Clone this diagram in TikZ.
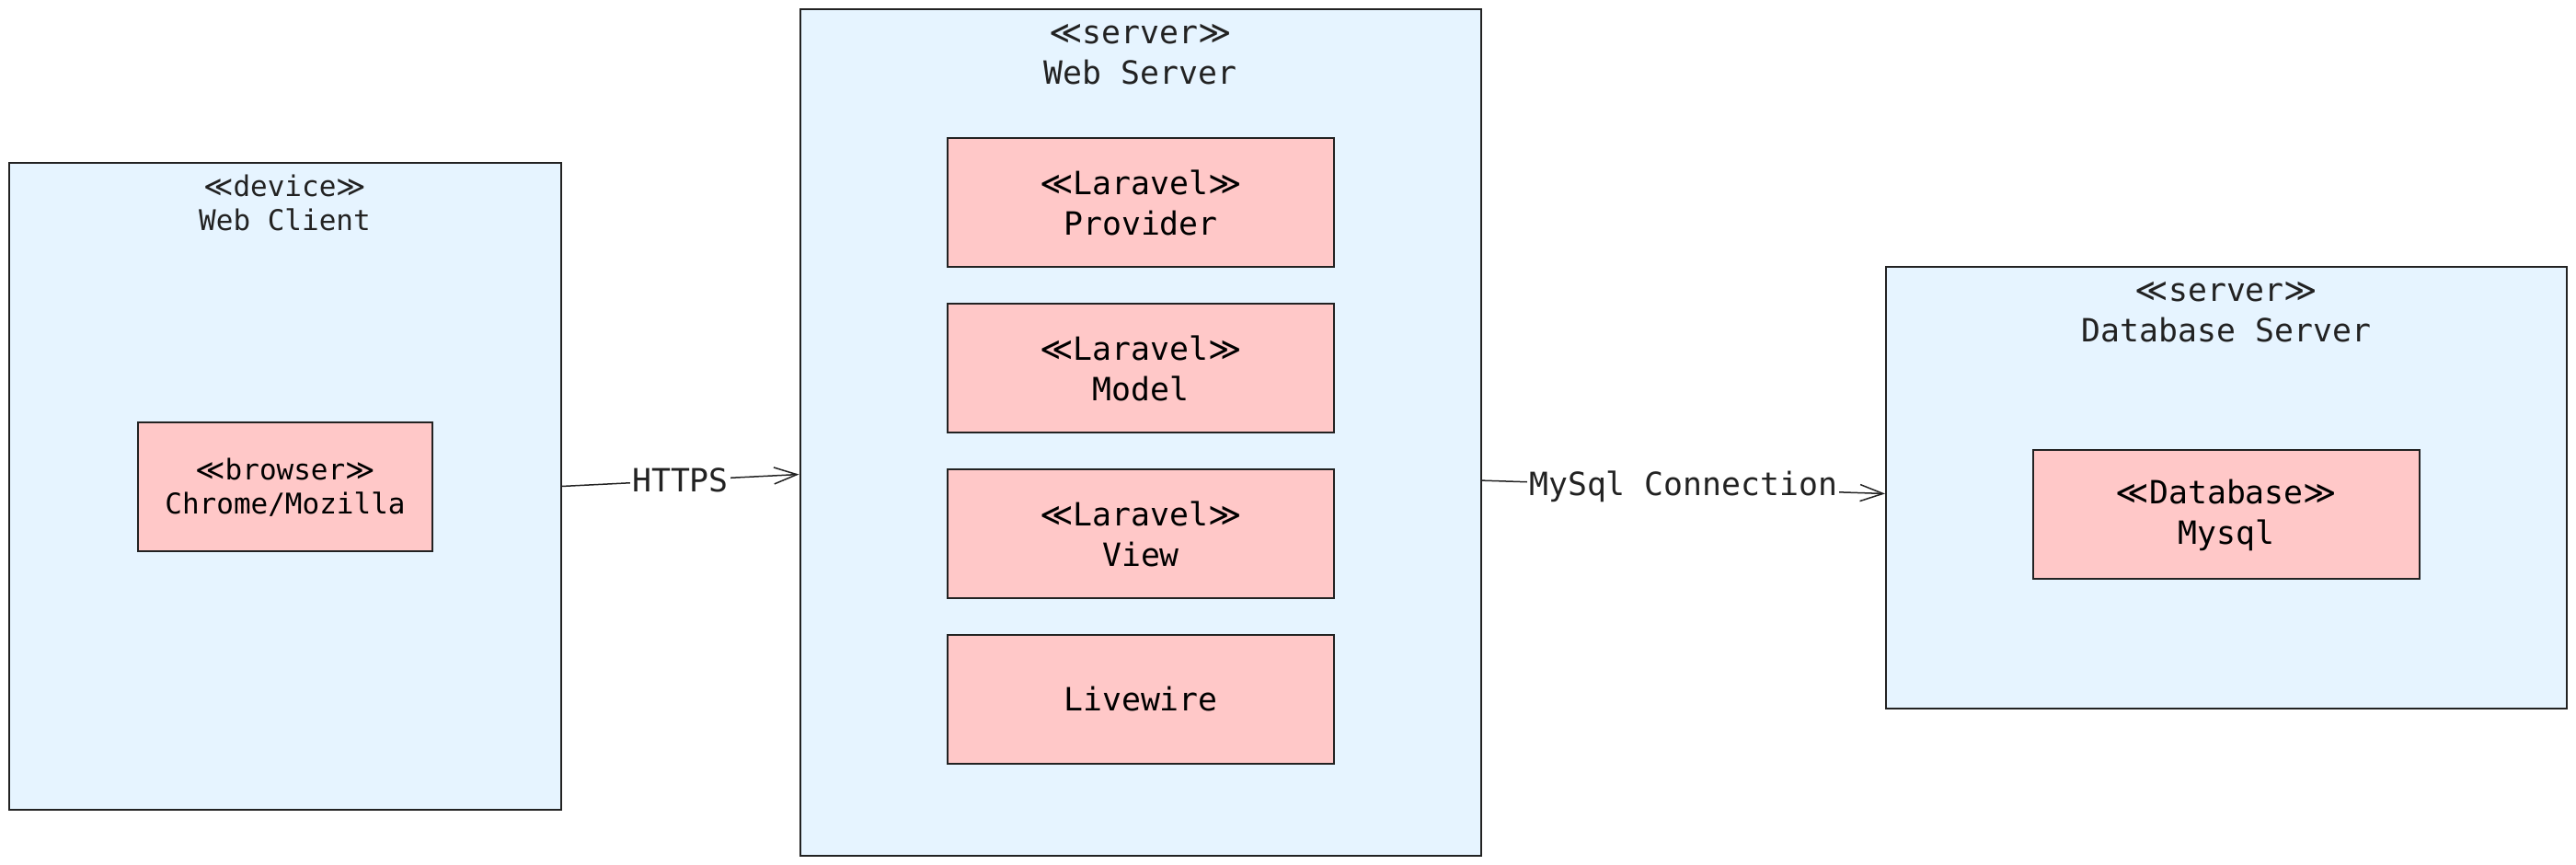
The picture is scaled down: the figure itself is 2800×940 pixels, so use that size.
\documentclass[tikz,border=0pt]{standalone}
\usepackage{fontspec}
\setmonofont{DejaVu Sans Mono}
\newfontfamily\guilfont{DejaVu Sans}
\usepackage{tikz}
\usepackage{xcolor}
\usetikzlibrary{positioning}
\usetikzlibrary{arrows.meta}
\definecolor{nodeblue}{HTML}{E6F4FF}
\definecolor{comppink}{HTML}{FFC8C8}
\definecolor{edgegray}{HTML}{222222}
\newcommand{\stereo}[1]{{\guilfont ≪}#1{\guilfont ≫}}
\tikzstyle{line} = [draw=edgegray, line width=0.75pt, -{Straight Barb[length=12.5pt,width=9pt]}]
\tikzstyle{deploy} = [draw=edgegray, fill=nodeblue, line width=1pt]
\tikzstyle{comp} = [draw=edgegray, fill=comppink, line width=1pt, align=center, font=\ttfamily\fontsize{17.4}{22}\selectfont]
\tikzstyle{title} = [align=center, text=edgegray, font=\ttfamily\fontsize{17.4}{22}\selectfont]

\begin{document}
\begin{tikzpicture}[x=0.5pt, y=-0.5pt]
			\useasboundingbox (0,0) rectangle (2800,940);
			% outer deployment nodes
			\node[deploy, minimum width=300pt, minimum height=351.5pt] at (309.5, 528.5) (client) {};
			\node[deploy, minimum width=370pt, minimum height=460pt] at (1239.5, 470) (webserver) {};
			\node[deploy, minimum width=370pt, minimum height=240pt] at (2420, 530) (dbserver) {};
			
			\node[title, font=\ttfamily\fontsize{15.5}{18.5}\selectfont, yshift=-22.25pt] at (client.north) (clienttitle) {\stereo{device}\\Web Client};
			\node[title, yshift=-25pt] at (webserver.north) (webtitle) {\stereo{server}\\Web Server};
			\node[title, yshift=-25pt] at (dbserver.north) (dbtitle) {\stereo{server}\\Database Server};
			
			% components
			\node[comp, font=\ttfamily\fontsize{15.5}{18.5}\selectfont, minimum width=160pt, minimum height=70pt] at (310, 529.5) (browser) {\stereo{browser}\\Chrome/Mozilla};
			\node[comp, minimum width=210pt, minimum height=70pt] at (1240, 220) (provider) {\stereo{Laravel}\\Provider};
			\node[comp, minimum width=210pt, minimum height=70pt, below=19pt of provider] (model) {\stereo{Laravel}\\Model};
			\node[comp, minimum width=210pt, minimum height=70pt, below=19pt of model] (view) {\stereo{Laravel}\\View};
			\node[comp, minimum width=210pt, minimum height=70pt, below=19pt of view] (livewire) {Livewire};
			\node[comp, minimum width=210pt, minimum height=70pt] at (2420, 559.5) (mysql) {\stereo{Database}\\Mysql};
			
			% connections
			\draw [line] (client.east) -- node [midway, fill=white, inner sep=1pt, text=edgegray, font=\ttfamily\fontsize{17.4}{22}\selectfont] {HTTPS} (webserver.187);
			\draw [line] (webserver.352.3) -- node [midway, fill=white, inner sep=1pt, text=edgegray, font=\ttfamily\fontsize{17.4}{22}\selectfont] {MySql Connection} (dbserver.181);
			
		\end{tikzpicture}
\end{document}
